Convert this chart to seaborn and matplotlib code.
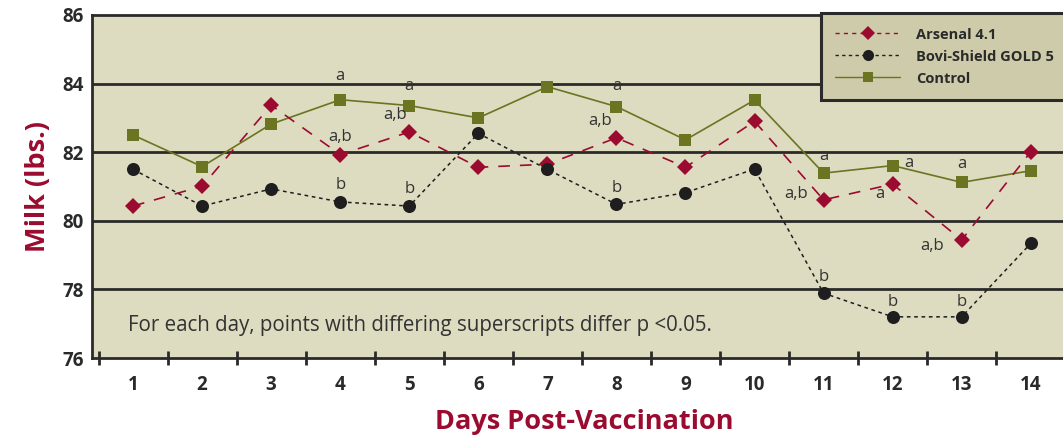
import numpy as np
import pandas as pd
import seaborn as sns
import matplotlib.pyplot as plt
from matplotlib.lines import Line2D

days = list(range(1, 15))
arsenal = [80.43, 81.01, 83.37, 81.93, 82.59, 81.56, 81.65, 82.42, 81.56, 82.9, 80.61, 81.07, 79.44, 82.01]
bovi = [81.5, 80.43, 80.93, 80.55, 80.43, 82.55, 81.5, 80.48, 80.82, 81.51, 77.89, 77.2, 77.2, 79.34]
control = [82.5, 81.58, 82.82, 83.53, 83.36, 83.0, 83.91, 83.33, 82.36, 83.52, 81.39, 81.61, 81.12, 81.46]
series_names = ['Arsenal 4.1', 'Bovi-Shield GOLD 5', 'Control']

# superscripts: (day, series, text, dx, dy) offsets in points
letters = [
    (4, 'Control', 'a', 0, 17), (4, 'Arsenal 4.1', 'a,b', 0, 13), (4, 'Bovi-Shield GOLD 5', 'b', 0, 12),
    (5, 'Control', 'a', 0, 14), (5, 'Arsenal 4.1', 'a,b', -10, 12), (5, 'Bovi-Shield GOLD 5', 'b', 0, 12),
    (8, 'Control', 'a', 0, 15), (8, 'Arsenal 4.1', 'a,b', -12, 12), (8, 'Bovi-Shield GOLD 5', 'b', 0, 12),
    (11, 'Control', 'a', 0, 12), (11, 'Arsenal 4.1', 'a,b', -20, 4), (11, 'Bovi-Shield GOLD 5', 'b', 0, 12),
    (12, 'Control', 'a', 12, 2), (12, 'Arsenal 4.1', 'a', -9, -7), (12, 'Bovi-Shield GOLD 5', 'b', 0, 11),
    (13, 'Control', 'a', 0, 13), (13, 'Arsenal 4.1', 'a,b', -21, -4), (13, 'Bovi-Shield GOLD 5', 'b', 0, 11),
]

df = pd.DataFrame({
    'day': days * 3,
    'milk': arsenal + bovi + control,
    'group': [s for s in series_names for _ in days],
})

crimson = '#9b0b30'
olive = '#6b7420'
black = '#1e1e1e'
bg = '#dddbc0'
dark = '#2a2a2a'

styles = {
    'Arsenal 4.1': dict(color=crimson, marker='D', markersize=8.4, dashes=(7, 6), ldash=(3, 3), lw=1.2, zorder=3),
    'Bovi-Shield GOLD 5': dict(color=black, marker='o', markersize=9.4, dashes=(2.4, 2.4), ldash=(2.4, 2.4), lw=1.1, zorder=4),
    'Control': dict(color=olive, marker='s', markersize=8.6, dashes=None, ldash=None, lw=1.2, zorder=2),
}

sns.set_style('white')
plt.rcParams['font.family'] = ['Open Sans', 'DejaVu Sans']

fig = plt.figure(figsize=(10.63, 4.38), dpi=100)
ax = fig.add_axes([92 / 1063, 80 / 438, 985 / 1063, 343 / 438])
ax.set_facecolor(bg)

for name in series_names:
    st = styles[name]
    sub = df[df['group'] == name]
    sns.lineplot(data=sub, x='day', y='milk', ax=ax, color=st['color'], marker=st['marker'],
                 markersize=st['markersize'], markeredgewidth=0, linewidth=st['lw'],
                 zorder=st['zorder'], legend=False)
    line = ax.lines[-1]
    if st['dashes']:
        line.set_dashes(st['dashes'])

lookup = {'Arsenal 4.1': arsenal, 'Bovi-Shield GOLD 5': bovi, 'Control': control}
for d, name, txt, dx, dy in letters:
    ax.annotate(txt, (d, lookup[name][d - 1]), xytext=(dx, dy), textcoords='offset points',
                ha='center', va='center', fontsize=12, color='#333333')

ax.set_ylim(76, 86)
ax.set_xlim(0.405, 14.67)
ax.set_yticks([76, 78, 80, 82, 84, 86])
ax.set_xticks(days)
ax.set_xticks(np.arange(0.5, 15, 1), minor=True)
for y in [78, 80, 82, 84]:
    ax.axhline(y, color=dark, lw=2, zorder=1)

ax.tick_params(axis='x', which='major', bottom=True, length=0, pad=12, labelsize=13.5, labelcolor=dark)
ax.tick_params(axis='x', which='minor', bottom=True, length=10, width=2, direction='inout', color=dark)
ax.tick_params(axis='y', length=0, pad=6, labelsize=13.5, labelcolor=dark)
for lbl in ax.get_xticklabels() + ax.get_yticklabels():
    lbl.set_fontweight('bold')

for side in ['left', 'top', 'bottom']:
    ax.spines[side].set_color(dark)
    ax.spines[side].set_linewidth(2)
ax.spines['right'].set_visible(False)

ax.set_xlabel('Days Post-Vaccination', color=crimson, fontsize=19.5, fontweight='bold', labelpad=10)
ax.set_ylabel('Milk (lbs.)', color=crimson, fontsize=19.5, fontweight='bold', labelpad=8)

ax.text(0.037, 0.095, 'For each day, points with differing superscripts differ p <0.05.',
        transform=ax.transAxes, fontsize=14.8, color='#333333', va='center')

handles = [Line2D([], [], color=styles[n]['color'], marker=styles[n]['marker'],
                  markersize=styles[n]['markersize'] * 0.85, markeredgewidth=0,
                  linestyle=(0, styles[n]['ldash']) if styles[n]['ldash'] else '-',
                  linewidth=1) for n in series_names]
leg = ax.legend(handles, series_names, loc='upper left', bbox_to_anchor=(0.74, 1.006),
                frameon=True, fancybox=False, handlelength=4.4, handletextpad=1.1,
                borderpad=1.0, labelspacing=0.55, borderaxespad=0,
                prop={'weight': 'bold', 'size': 10.5})
leg.get_frame().set_facecolor('#cdcbaa')
leg.get_frame().set_edgecolor(dark)
leg.get_frame().set_linewidth(2.2)
leg.get_frame().set_alpha(1)
for t in leg.get_texts():
    t.set_color(dark)

fig.savefig('out.png', dpi=100)
